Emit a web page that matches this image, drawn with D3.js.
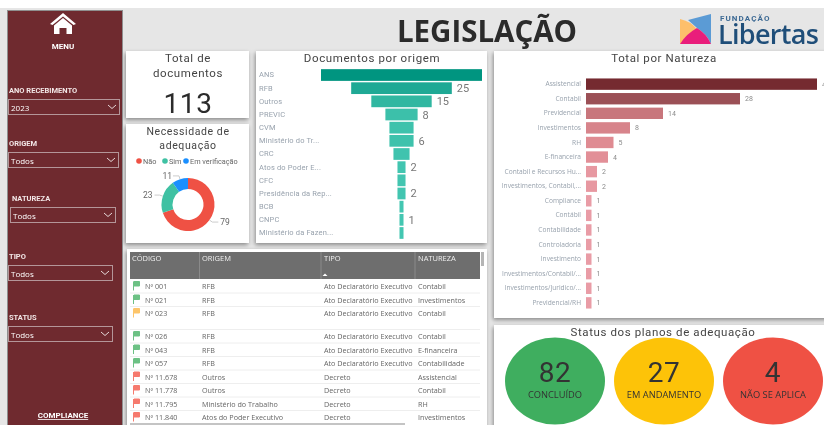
<!DOCTYPE html>
<html>
<head>
<meta charset="utf-8">
<script src="https://cdn.jsdelivr.net/npm/d3@7.9.0/dist/d3.min.js"></script>
<style>
  html, body { margin: 0; padding: 0; background: #fff; overflow: hidden; }
  svg { display: block; filter: blur(0.35px); }
  text { font-family: Roboto, sans-serif; }
  .din { font-family: Roboto, sans-serif; letter-spacing: 0.6px; }
  .segoe { font-family: "Open Sans", sans-serif; }
</style>
</head>
<body>
<svg id="chart" width="824" height="425"></svg>
<script>
const origemNames = ['ANS', 'RFB', 'Outros', 'PREVIC', 'CVM', 'Ministério do Tr...', 'CRC', 'Atos do Poder E...', 'CFC', 'Presidência da Rep...', 'BCB', 'CNPC', 'Ministério da Fazen...'];
const origemValues = [40, 25, 15, 8, 6, 6, 4, 2, 2, 2, 1, 1, 1];
const origemShown = ['RFB', 'Outros', 'PREVIC', 'Ministério do Tr...', 'Atos do Poder E...', 'Presidência da Rep...', 'CNPC'];

const naturezaNames = ['Assistencial', 'Contabil', 'Previdencial', 'Investimentos', 'RH', 'E-financeira', 'Contabil e Recursos Hu...', 'Investimentos, Contabil,...', 'Compliance', 'Contábil', 'Contabilidade', 'Controladoria', 'Investimento', 'Investimentos/Contabil/...', 'Investimentos/Juridico/...', 'Previdencial/RH'];
const naturezaValues = [42, 28, 14, 8, 5, 4, 2, 2, 1, 1, 1, 1, 1, 1, 1, 1];

const adequacaoNames = ['Não', 'Sim', 'Em verificação'];
const adequacaoValues = [79, 23, 11];
const adequacaoColors = ['#ef5144', '#3fc1a3', '#1a8fff'];

const statusNames = ['CONCLUÍDO', 'EM ANDAMENTO', 'NÃO SE APLICA'];
const statusValues = [82, 27, 4];
const statusColors = ['#3fae5f', '#fdc308', '#ef5144'];

const totalDocumentos = 113;

const tableHeaders = ['CÓDIGO', 'ORIGEM', 'TIPO', 'NATUREZA'];
const tableCodes = ['Nº 001', 'Nº 021', 'Nº 023', 'Nº 026', 'Nº 043', 'Nº 057', 'Nº 11.678', 'Nº 11.778', 'Nº 11.795', 'Nº 11.840'];
const tableOrigens = ['RFB', 'RFB', 'RFB', 'RFB', 'RFB', 'RFB', 'Outros', 'Outros', 'Ministério do Trabalho', 'Atos do Poder Executivo'];
const tableTipos = ['Ato Declaratório Executivo', 'Ato Declaratório Executivo', 'Ato Declaratório Executivo', 'Ato Declaratório Executivo', 'Ato Declaratório Executivo', 'Ato Declaratório Executivo', 'Decreto', 'Decreto', 'Decreto', 'Decreto'];
const tableNaturezas = ['Contabil', 'Investimentos', 'Contabil', 'Contabil', 'E-financeira', 'Contabilidade', 'Assistencial', 'Contabil', 'RH', 'Investimentos'];
const tableFlags = ['#6cc184', '#6cc184', '#fdc56b', '#6cc184', '#6cc184', '#6cc184', '#f67a6e', '#f67a6e', '#f67a6e', '#f67a6e'];

const filterLabels = ['ANO RECEBIMENTO', 'ORIGEM', 'NATUREZA', 'TIPO', 'STATUS'];
const filterValues = ['2023', 'Todos', 'Todos', 'Todos', 'Todos'];

const svg = d3.select('#chart');

// Panel shadow
const defs = svg.append('defs');
defs.append('filter').attr('id', 'shadow').attr('x', '-10%').attr('y', '-10%').attr('width', '120%').attr('height', '120%')
  .append('feDropShadow')
  .attr('dx', -1).attr('dy', 2).attr('stdDeviation', 2)
  .attr('flood-color', '#000').attr('flood-opacity', 0.4);

svg.append('rect').attr('x', 0).attr('y', 8).attr('width', 824).attr('height', 417).attr('fill', '#e6e6e6');

function panel(x, y, w, h) {
  svg.append('rect').attr('x', x).attr('y', y).attr('width', w).attr('height', h)
    .attr('fill', '#fff').attr('filter', 'url(#shadow)');
}
panel(126, 51, 123, 67);
panel(126, 124, 123, 119);
panel(256, 51, 231, 192);
panel(127, 249, 360, 180);
panel(494, 51, 340, 267);
panel(494, 325, 340, 110);

function title(text, x, y, size) {
  svg.append('text').attr('class', 'din').attr('x', x).attr('y', y)
    .attr('text-anchor', 'middle').attr('font-size', size).attr('fill', '#444').text(text);
}

// Sidebar
svg.append('rect').attr('x', 7.5).attr('y', 10.5).attr('width', 115).attr('height', 420)
  .attr('fill', '#6f2a2f').attr('stroke', '#8f8f8f');

const menu = svg.append('g').attr('fill', '#fff');
menu.append('path').attr('d', 'M63 13 L76 24 L73.5 25 L63 16.5 L52.5 25 L50 24 Z');
menu.append('path').attr('d', 'M54 25.5 L63 18 L72 25.5 V34 H66.5 V28 H59.5 V34 H54 Z');
menu.append('text').attr('x', 63).attr('y', 49).attr('text-anchor', 'middle')
  .attr('font-size', 8).attr('font-weight', 700).text('MENU');

const filterBoxes = [
  { lx: 9, ly: 93, x: 8, y: 99, w: 111 },
  { lx: 9, ly: 146, x: 8, y: 152, w: 110 },
  { lx: 12, ly: 201, x: 10, y: 207, w: 105 },
  { lx: 9, ly: 259, x: 8, y: 265, w: 104 },
  { lx: 9, ly: 320, x: 8, y: 326, w: 104 }
];
filterLabels.forEach((label, i) => {
  const b = filterBoxes[i];
  svg.append('text').attr('x', b.lx).attr('y', b.ly).attr('font-size', 7.5).attr('font-weight', 700)
    .attr('fill', '#f2e6e6').text(label);
  svg.append('rect').attr('x', b.x + 0.5).attr('y', b.y + 0.5).attr('width', b.w).attr('height', 15)
    .attr('fill', 'none').attr('stroke', '#b49699');
  svg.append('text').attr('class', 'segoe').attr('x', b.x + 3).attr('y', b.y + 11.5).attr('font-size', 8)
    .attr('fill', '#fff').text(filterValues[i]);
  const ax = b.x + b.w - 11;
  svg.append('path').attr('d', `M${ax} ${b.y + 6} l4 3.5 l4 -3.5`).attr('fill', 'none').attr('stroke', '#e6d8d8');
});
svg.append('text').attr('x', 63).attr('y', 418).attr('text-anchor', 'middle').attr('font-size', 8)
  .attr('font-weight', 700).attr('fill', '#fff').attr('text-decoration', 'underline').text('COMPLIANCE');

// Header and logo
svg.append('text').attr('class', 'segoe').attr('x', 487).attr('y', 42).attr('text-anchor', 'middle')
  .attr('font-size', 29.5).attr('font-weight', 700).attr('fill', '#2b2b2b').text('LEGISLAÇÃO');
svg.append('path').attr('d', 'M680 19 Q690 21 697 29 L680 44 Z').attr('fill', '#fdbf6b');
svg.append('path').attr('d', 'M711 14 V44 Q707 34 697 28 L688 20 Z').attr('fill', '#5b9bd5');
svg.append('path').attr('d', 'M680 44 Q686 34 697 28 Q707 34 711 44 Z').attr('fill', '#e91e7b');
svg.append('text').attr('x', 720).attr('y', 20.5).attr('font-size', 8).attr('font-weight', 700)
  .attr('letter-spacing', 1.1).attr('fill', '#3d6a94').text('FUNDAÇÃO');
svg.append('text').attr('class', 'segoe').attr('x', 718).attr('y', 44).attr('font-size', 27)
  .attr('font-weight', 600).attr('textLength', 101).attr('fill', '#1f4e79').text('Libertas');

// Total card
title('Total de', 188, 62, 11.5);
title('documentos', 188, 77, 11.5);
svg.append('text').attr('class', 'din').attr('x', 188).attr('y', 113).attr('text-anchor', 'middle')
  .attr('font-size', 28).attr('fill', '#2b2b2b').text(totalDocumentos);

// Donut
title('Necessidade de', 188, 135, 10.5);
title('adequação', 188, 149, 10.5);
const legendX = [139, 165, 186];
adequacaoNames.forEach((name, i) => {
  svg.append('circle').attr('cx', legendX[i]).attr('cy', 161).attr('r', 2.8).attr('fill', adequacaoColors[i]);
  svg.append('text').attr('x', legendX[i] + 4).attr('y', 163.5).attr('font-size', 7.3).attr('fill', '#666').text(name);
});
const donut = svg.append('g').attr('transform', 'translate(188,204.5)');
const pieData = d3.pie().sort(null)(adequacaoValues);
const arc = d3.arc().innerRadius(15.5).outerRadius(26.5);
donut.selectAll('path').data(pieData).join('path')
  .attr('d', arc).attr('fill', (d, i) => adequacaoColors[i]);
// Donut callouts
const callout = d3.arc().innerRadius(30).outerRadius(30);
const calloutEnd = [6, -5, -6];
const calloutText = [{ dx: 2, dy: 3 }, { dx: -2, dy: 3 }, { dx: -1, dy: 3 }];
pieData.forEach((d, i) => {
  const [cx, cy] = callout.centroid(d);
  const [ax, ay] = d3.arc().innerRadius(26.5).outerRadius(26.5).centroid(d);
  const ex = cx + calloutEnd[i];
  donut.append('path').attr('d', `M${ax} ${ay} L${cx} ${cy} H${ex}`).attr('fill', 'none').attr('stroke', '#ccc');
  donut.append('text').attr('x', ex + calloutText[i].dx).attr('y', cy + calloutText[i].dy)
    .attr('text-anchor', i === 0 ? 'start' : 'end').attr('font-size', 8.5).attr('fill', '#666').text(d.value);
});

// Funnel
title('Documentos por origem', 372, 62, 11.5);
const funnelY = d3.scaleBand().domain(origemNames).range([68.5, 239.5]).paddingInner(0.11).paddingOuter(0.05);
const funnelW = d3.scaleLinear().domain([0, d3.max(origemValues)]).range([0, 161]);
const funnelColor = d3.scaleLinear().domain([1, 8, 25, 40]).range(['#43c6b1', '#3cc0aa', '#1fa995', '#009580']);
const funnelCx = 401.5;
const funnel = svg.append('g');
funnel.selectAll('rect').data(origemNames).join('rect')
  .attr('x', (d, i) => funnelCx - funnelW(origemValues[i]) / 2)
  .attr('y', d => funnelY(d))
  .attr('width', (d, i) => funnelW(origemValues[i]))
  .attr('height', funnelY.bandwidth())
  .attr('fill', (d, i) => funnelColor(origemValues[i]));
const funnelAxis = svg.append('g').attr('transform', 'translate(259,0)')
  .call(d3.axisLeft(funnelY).tickSize(0));
funnelAxis.select('.domain').remove();
funnelAxis.selectAll('text').attr('x', 0).attr('text-anchor', 'start')
  .attr('font-size', 7.5).attr('font-family', 'Roboto, sans-serif').attr('letter-spacing', 0.15).attr('fill', '#98a2ad');
origemNames.forEach((name, i) => {
  if (!origemShown.includes(name)) return;
  svg.append('text').attr('x', funnelCx + funnelW(origemValues[i]) / 2 + 5)
    .attr('y', funnelY(name) + funnelY.bandwidth() / 2 + 4)
    .attr('font-size', 11).attr('fill', '#777').text(origemValues[i]);
});

// Natureza bars
title('Total por Natureza', 664, 62, 11.5);
const natY = d3.scaleBand().domain(naturezaNames).range([77, 310]).paddingInner(0.22).paddingOuter(0.1);
const natX = d3.scaleLinear().domain([0, d3.max(naturezaValues)]).range([586, 817]);
const natColor = d3.scaleLinear().domain([1, 5, 14, 28, 42]).range(['#e99ca6', '#df8b92', '#c8767c', '#9b5056', '#752a30']);
svg.append('g').selectAll('rect').data(naturezaNames).join('rect')
  .attr('x', natX(0))
  .attr('y', d => natY(d))
  .attr('width', (d, i) => natX(naturezaValues[i]) - natX(0))
  .attr('height', natY.bandwidth())
  .attr('fill', (d, i) => natColor(naturezaValues[i]));
const natAxis = svg.append('g').attr('transform', 'translate(581,0)')
  .call(d3.axisLeft(natY).tickSize(0).tickPadding(0));
natAxis.select('.domain').remove();
natAxis.selectAll('text').attr('class', 'segoe').attr('font-size', 6.6).attr('fill', '#98a2ad')
  .attr('font-family', '"Open Sans", sans-serif');
svg.append('g').selectAll('text').data(naturezaNames).join('text')
  .attr('x', (d, i) => natX(naturezaValues[i]) + 5)
  .attr('y', d => natY(d) + natY.bandwidth() / 2 + 2.5)
  .attr('font-size', 7).attr('fill', '#8b8b8b')
  .text((d, i) => naturezaValues[i]);

// Status ellipses
title('Status dos planos de adequação', 663, 336, 11.5);
const statusX = d3.scalePoint().domain(statusNames).range([555, 773]);
statusNames.forEach((name, i) => {
  const g = svg.append('g').attr('transform', `translate(${statusX(name)},381)`);
  g.append('ellipse').attr('rx', 50).attr('ry', 43.5).attr('fill', statusColors[i]);
  g.append('text').attr('class', 'din').attr('y', 1).attr('text-anchor', 'middle').attr('font-size', 28)
    .attr('fill', '#333').text(statusValues[i]);
  g.append('text').attr('class', 'segoe').attr('y', 17).attr('text-anchor', 'middle').attr('font-size', 9.3)
    .attr('fill', '#333').text(name);
});

// Table
const colX = [132, 202, 324, 418];
const colLines = [199.5, 321, 415];
const rowH = 13.5;
const tallRow = 2;
svg.append('rect').attr('x', 130).attr('y', 252).attr('width', 350).attr('height', 27).attr('fill', '#6e6e6e');
colLines.forEach(x => {
  svg.append('line').attr('x1', x).attr('x2', x).attr('y1', 252).attr('y2', 279).attr('stroke', '#8a8a8a');
});
tableHeaders.forEach((h, i) => {
  svg.append('text').attr('class', 'segoe').attr('x', colX[i]).attr('y', 261).attr('font-size', 7.5)
    .attr('fill', '#f0f0f0').text(h);
});
svg.append('path').attr('d', 'M322.5 276 l2.5 -2.5 l2.5 2.5 Z').attr('fill', '#fff');

const tableColumns = [tableCodes, tableOrigens, tableTipos, tableNaturezas];
let rowTop = 279.5;
tableCodes.forEach((code, r) => {
  const h = r === tallRow ? 23 : rowH;
  const base = rowTop + 9.5;
  tableColumns.forEach((col, c) => {
    svg.append('text').attr('class', 'segoe').attr('x', c === 0 ? 145 : colX[c]).attr('y', base)
      .attr('font-size', 7.2).attr('fill', '#666').text(col[r]);
  });
  svg.append('path').attr('d', `M133.5 ${rowTop + 2} V${rowTop + 11} M134 ${rowTop + 2} h5.5 v4.5 h-5.5 Z`)
    .attr('fill', tableFlags[r]).attr('stroke', tableFlags[r]).attr('stroke-width', 1);
  rowTop += h;
  if (r < tableCodes.length - 1) {
    svg.append('line').attr('x1', 130).attr('x2', 480).attr('y1', rowTop).attr('y2', rowTop).attr('stroke', '#eee');
  }
});
svg.append('rect').attr('x', 481).attr('y', 252).attr('width', 3).attr('height', 14).attr('fill', '#b5b5b5');
svg.append('rect').attr('x', 130).attr('y', 423).attr('width', 275).attr('height', 2).attr('fill', '#c4c4c4');
</script>
</body>
</html>
